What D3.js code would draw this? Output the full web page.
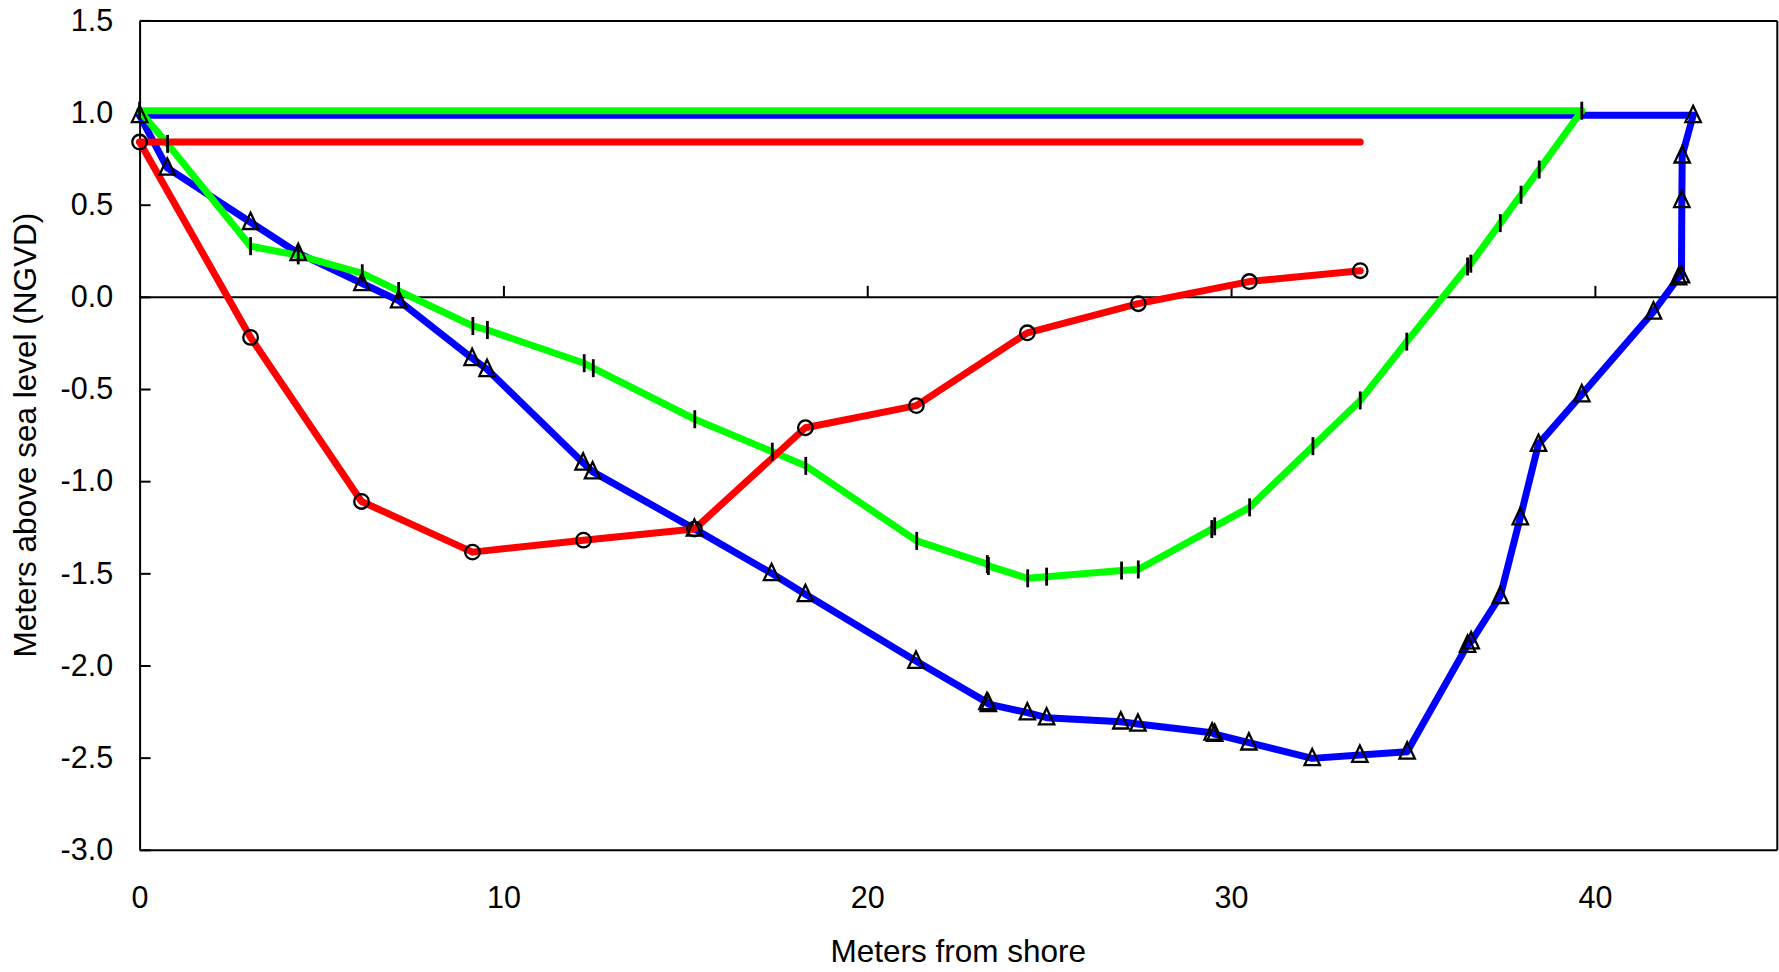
<!DOCTYPE html>
<html>
<head>
<meta charset="utf-8">
<script src="https://cdn.jsdelivr.net/npm/d3@7"></script>
<style>
  body { margin: 0; background: #fff; }
  svg { display: block; }
  text { font-family: "Liberation Sans", Arial, Helvetica, sans-serif; fill: #000; }
</style>
</head>
<body>
<svg id="chart" width="1779" height="972"></svg>
<script>
// ---------------- data ----------------
const redX = [0, 3.05, 6.10, 9.15, 12.20, 15.25, 18.30, 21.35, 24.40, 27.45, 30.50, 33.55];
const redY = [0.84, -0.22, -1.11, -1.385, -1.32, -1.26, -0.71, -0.59, -0.195, -0.037, 0.083, 0.142];
const redLevel = 0.84;

const greenX = [0, 0.77, 3.05, 4.36, 6.12, 7.12, 9.16, 9.56, 12.22, 12.47, 15.26, 17.39, 18.31, 21.36,
  23.30, 23.33, 24.41, 24.93, 26.99, 27.45, 29.47, 29.55, 30.51, 32.25, 33.55, 34.83, 36.50, 36.59,
  37.40, 37.97, 38.47, 39.64];
const greenY = [1.01, 0.83, 0.275, 0.225, 0.128, 0.032, -0.158, -0.18, -0.36, -0.387, -0.664, -0.84, -0.917, -1.324,
  -1.45, -1.46, -1.527, -1.518, -1.485, -1.479, -1.26, -1.245, -1.142, -0.81, -0.562, -0.243, 0.165, 0.18,
  0.40, 0.554, 0.691, 1.01];
const greenLevel = 1.01;

const blueX = [0, 0.76, 3.05, 4.36, 6.11, 7.12, 9.14, 9.55, 12.19, 12.45, 15.25, 17.37, 18.30, 21.34,
  23.29, 23.33, 24.40, 24.93, 26.97, 27.44, 29.48, 29.55, 30.49, 32.23, 33.54, 34.84, 36.50, 36.60,
  37.40, 37.95, 38.45, 39.64, 41.61, 42.30, 42.38, 42.39, 42.40, 42.70];
const blueY = [0.985, 0.70, 0.405, 0.237, 0.074, -0.02, -0.333, -0.393, -0.90, -0.948, -1.259, -1.50, -1.614, -1.976,
  -2.20, -2.21, -2.256, -2.283, -2.305, -2.317, -2.365, -2.372, -2.419, -2.504, -2.486, -2.468, -1.889, -1.87,
  -1.624, -1.197, -0.799, -0.53, -0.081, 0.105, 0.115, 0.524, 0.766, 0.985];
const blueLevel = 0.985;

const xTickValues = [0, 10, 20, 30, 40];
const xTickLabels = ["0", "10", "20", "30", "40"];
const yTickValues = [1.5, 1.0, 0.5, 0.0, -0.5, -1.0, -1.5, -2.0, -2.5, -3.0];
const yTickLabels = ["1.5", "1.0", "0.5", "0.0", "-0.5", "-1.0", "-1.5", "-2.0", "-2.5", "-3.0"];
const xTitle = "Meters from shore";
const yTitle = "Meters above sea level (NGVD)";

// ---------------- layout ----------------
const W = 1779, H = 972;
const plotL = 139.6, plotR = 1776.8, plotT = 20.4, plotB = 849.8;
const svg = d3.select("#chart");

const x = d3.scaleLinear().domain([0, 45]).range([plotL, plotR]);
const y = d3.scaleLinear().domain([-3, 1.5]).range([plotB, plotT]);

const fontSize = 30.5;
const axisColor = "#000";

// frame: top and right
svg.append("g").attr("transform", `translate(0,${y(1.5)})`)
  .call(d3.axisTop(x).tickValues([]).tickSizeOuter(0));
svg.append("g").attr("transform", `translate(${x(45)},0)`)
  .call(d3.axisRight(y).tickValues([]).tickSizeOuter(0));

// left axis with inward ticks
svg.append("g").attr("transform", `translate(${x(0)},0)`)
  .call(d3.axisLeft(y).tickValues(yTickValues)
    .tickFormat((d, i) => yTickLabels[i])
    .tickSizeInner(-11).tickSizeOuter(0).tickPadding(26.5));

// bottom axis (labels only)
svg.append("g").attr("transform", `translate(0,${y(-3)})`)
  .call(d3.axisBottom(x).tickValues(xTickValues)
    .tickFormat((d, i) => xTickLabels[i])
    .tickSizeInner(0).tickSizeOuter(0).tickPadding(37));

// zero line with upward ticks
svg.append("g").attr("transform", `translate(0,${y(0)})`)
  .call(d3.axisBottom(x).tickValues(xTickValues.filter(d => d > 0))
    .tickFormat("").tickSizeInner(-11).tickSizeOuter(0));

svg.selectAll(".domain").attr("stroke", axisColor).attr("stroke-width", 2);
svg.selectAll(".tick line").attr("stroke", axisColor).attr("stroke-width", 2);
svg.selectAll(".tick text").attr("font-size", fontSize)
  .attr("font-family", '"Liberation Sans", Arial, sans-serif').attr("fill", "#000");

// titles
svg.append("text")
  .attr("x", (plotL + plotR) / 2).attr("y", 962)
  .attr("text-anchor", "middle").attr("font-size", 31.5)
  .text(xTitle);
svg.append("text")
  .attr("transform", `translate(36,${(plotT + plotB) / 2}) rotate(-90)`)
  .attr("text-anchor", "middle").attr("font-size", 31.5)
  .text(yTitle);

// ---------------- series ----------------
const line = d3.line().x(d => x(d[0])).y(d => y(d[1]));
const zip = (xs, ys) => xs.map((v, i) => [v, ys[i]]);

const series = [
  { name: "blue", xs: blueX, ys: blueY, level: blueLevel, color: "#0000ff", marker: "triangle" },
  { name: "green", xs: greenX, ys: greenY, level: greenLevel, color: "#00ff00", marker: "tick" },
  { name: "red", xs: redX, ys: redY, level: redLevel, color: "#ff0000", marker: "circle" }
];

const lw = 7;
series.forEach(s => {
  const pts = zip(s.xs, s.ys);
  const g = svg.append("g").attr("class", "series-" + s.name);
  g.append("path")
    .attr("d", line([[d3.min(s.xs), s.level], [d3.max(s.xs), s.level]]))
    .attr("fill", "none").attr("stroke", s.color).attr("stroke-width", lw)
    .attr("stroke-linecap", "round");
  g.append("path")
    .attr("d", line(pts))
    .attr("fill", "none").attr("stroke", s.color).attr("stroke-width", lw)
    .attr("stroke-linejoin", "round").attr("stroke-linecap", "round");
});

// markers on top
const tri = "M0,-9.5L7.7,6.8L-7.7,6.8Z";
series.forEach(s => {
  const pts = zip(s.xs, s.ys);
  const g = svg.append("g").attr("class", "markers-" + s.name);
  if (s.marker === "circle") {
    g.selectAll("circle").data(pts).join("circle")
      .attr("cx", d => x(d[0])).attr("cy", d => y(d[1])).attr("r", 7.3)
      .attr("fill", "none").attr("stroke", "#000").attr("stroke-width", 2.3);
  } else if (s.marker === "triangle") {
    g.selectAll("path").data(pts).join("path")
      .attr("transform", d => `translate(${x(d[0])},${y(d[1])})`)
      .attr("d", tri)
      .attr("fill", "none").attr("stroke", "#000").attr("stroke-width", 2.3)
      .attr("stroke-linejoin", "miter");
  } else {
    g.selectAll("line").data(pts).join("line")
      .attr("x1", d => x(d[0])).attr("x2", d => x(d[0]))
      .attr("y1", d => y(d[1]) - 9).attr("y2", d => y(d[1]) + 9)
      .attr("stroke", "#000").attr("stroke-width", 2.8);
  }
});
</script>
</body>
</html>
